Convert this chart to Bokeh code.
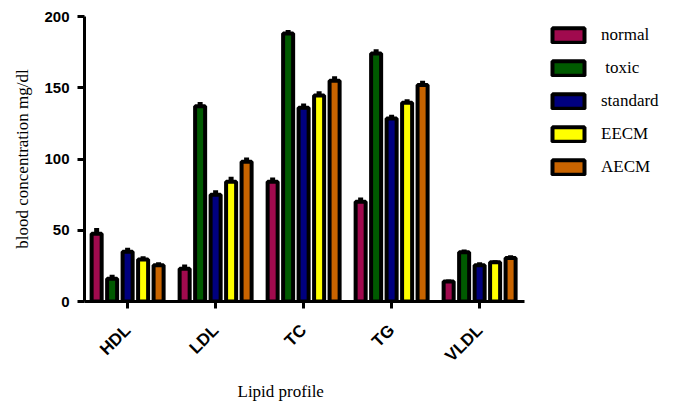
import math
from bokeh.plotting import figure
from bokeh.models import FixedTicker, Legend, LegendItem, ColumnDataSource, Range1d, Title
from bokeh.embed import file_html
from bokeh.resources import INLINE

categories = ["HDL", "LDL", "TC", "TG", "VLDL"]
series = ["normal", " toxic", "standard", "EECM", "AECM"]
colors = ["#A00A4E", "#005A00", "#00007F", "#FFFF00", "#C86400"]

normal = [47.5, 23.0, 84.0, 70.0, 14.0]
toxic = [16.0, 137.0, 188.0, 174.0, 34.5]
standard = [35.0, 75.0, 136.0, 128.5, 25.5]
eecm = [29.5, 84.0, 144.5, 139.5, 27.5]
aecm = [25.5, 98.0, 155.0, 152.0, 30.5]

normal_err = [4.0, 3.0, 3.0, 3.0, 1.5]
toxic_err = [2.8, 3.0, 2.5, 3.0, 2.0]
standard_err = [2.8, 3.0, 3.0, 2.5, 2.0]
eecm_err = [2.3, 3.5, 3.0, 2.5, 1.5]
aecm_err = [2.1, 3.0, 3.0, 3.0, 2.0]

values = [normal, toxic, standard, eecm, aecm]
errors = [normal_err, toxic_err, standard_err, eecm_err, aecm_err]

y_ticks = [0, 50, 100, 150, 200]

W, H = 681, 405
BL, BR, BT, BB = 84, 3, 16, 103
frame_w = W - BL - BR
px_per_cat = 88.0
x0 = -0.49
p = figure(width=W, height=H, output_backend="svg", toolbar_location=None,
           x_range=Range1d(x0, x0 + frame_w / px_per_cat), y_range=Range1d(0, 200),
           min_border_left=BL, min_border_right=BR, min_border_top=BT,
           min_border_bottom=BB)
p.outline_line_color = None
p.xgrid.visible = False
p.ygrid.visible = False
p.background_fill_color = "white"

pitch = 0.176
bw = 0.114
items = []
idx = list(range(len(categories)))
for i, (name, vals, errs, col) in enumerate(zip(series, values, errors, colors)):
    off = (i - 2) * pitch
    xs = [k + off for k in idx]
    src = ColumnDataSource(dict(x=xs, top=vals, up=[v + e for v, e in zip(vals, errs)]))
    r = p.vbar(x="x", top="top", bottom=0, width=bw, source=src,
               fill_color=col, line_color="black", line_width=4)
    p.segment(x0="x", y0="top", x1="x", y1="up", source=src,
              line_color="black", line_width=5, line_cap="butt")
    items.append(LegendItem(label=name, renderers=[r]))

legend = Legend(items=items, location=(464, 124), orientation="vertical",
                glyph_width=40, glyph_height=18, label_height=17, spacing=13,
                label_standoff=13, padding=0, margin=0,
                border_line_alpha=0, background_fill_alpha=0,
                label_text_font="Liberation Serif", label_text_font_size="17px",
                label_text_color="black")
p.add_layout(legend, "center")

# x axis
xa = p.xaxis[0]
xa.bounds = (x0, len(categories) - 1 + 0.51)
xa.ticker = FixedTicker(ticks=idx)
xa.major_label_overrides = {k: c for k, c in zip(idx, categories)}
xa.major_label_orientation = math.pi / 4
xa.major_label_text_font = "Liberation Sans"
xa.major_label_text_font_style = "bold"
xa.major_label_text_font_size = "17px"
xa.major_label_text_color = "black"
xa.major_label_standoff = 19
xa.minor_tick_line_color = None
xa.major_tick_in = 0
xa.major_tick_out = 7
xa.major_tick_line_width = 3
xa.axis_line_width = 3
xa.axis_line_color = "black"
xa.major_tick_line_color = "black"

p.add_layout(Title(text="Lipid profile", align="left", offset=153,
                   text_font="Liberation Serif", text_font_style="normal",
                   text_font_size="17px", text_color="black",
                   standoff=9), "below")

# y axis
ya = p.yaxis[0]
ya.ticker = FixedTicker(ticks=y_ticks)
ya.major_label_text_font = "Liberation Sans"
ya.major_label_text_font_style = "bold"
ya.major_label_text_font_size = "15px"
ya.major_label_text_color = "black"
ya.major_label_standoff = 8
ya.minor_tick_line_color = None
ya.major_tick_in = 0
ya.major_tick_out = 7
ya.major_tick_line_width = 3
ya.axis_line_width = 3
ya.axis_line_color = "black"
ya.major_tick_line_color = "black"
ya.axis_label = "blood concentration mg/dl"
ya.axis_label_text_font = "Liberation Serif"
ya.axis_label_text_font_style = "normal"
ya.axis_label_text_font_size = "17px"
ya.axis_label_text_color = "black"
ya.axis_label_standoff = 9

open("out.html", "w").write(file_html(p, INLINE))
